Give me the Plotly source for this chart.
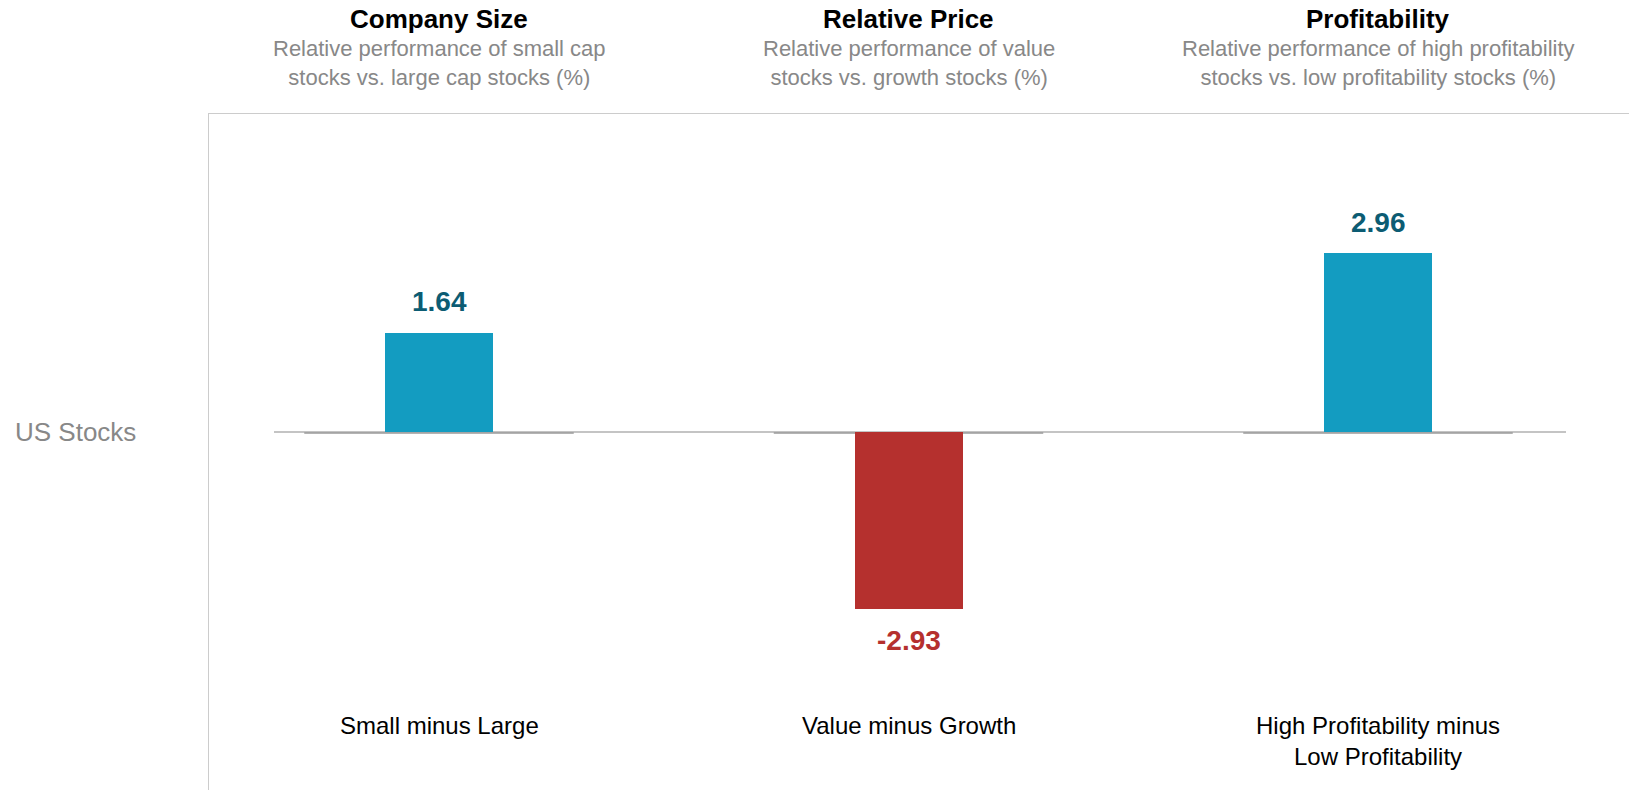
import plotly.graph_objects as go

# ---- data ----
categories = ["Small minus Large", "Value minus Growth", "High Profitability minus<br>Low Profitability"]
values = [1.64, -2.93, 2.96]
headers = ["Company Size", "Relative Price", "Profitability"]
subtitles = [
    "Relative performance of small cap<br>stocks vs. large cap stocks (%)",
    "Relative performance of value<br>stocks vs. growth stocks (%)",
    "Relative performance of high profitability<br>stocks vs. low profitability stocks (%)",
]
row_label = "US Stocks"

# ---- styling / layout constants (page pixels; page body margin removed) ----
W, H = 1629, 790
M_L, M_T = 209, 114
PLOT_W, PLOT_H = W - M_L, H - M_T
FIRST_CENTER_PX = 439 - M_L      # px from plot-left to first category centre
CAT_STEP_PX = 469.5              # px per category
ZERO_PX = 432 - M_T              # px from plot-top to zero line
UNIT_PX = 60.45                  # px per 1 percentage point

POS_BAR = "#139cc1"
NEG_BAR = "#b5302e"
POS_TXT = "#0c5c73"
NEG_TXT = "#b5302e"
GRAY_TXT = "#888888"
FONT = "Liberation Sans, Arial, Helvetica, sans-serif"

x_range = [-FIRST_CENTER_PX / CAT_STEP_PX, (PLOT_W - FIRST_CENTER_PX) / CAT_STEP_PX]
y_range = [-(PLOT_H - ZERO_PX) / UNIT_PX, ZERO_PX / UNIT_PX]


def paper_y(page_px):
    return (H - page_px) / PLOT_H


def x_from_page(page_px):
    return x_range[0] + (page_px - M_L) / CAT_STEP_PX


fig = go.Figure()
fig.add_trace(go.Bar(
    x=categories,
    y=values,
    width=108 / CAT_STEP_PX,
    marker=dict(color=[POS_BAR if v >= 0 else NEG_BAR for v in values], line=dict(width=0)),
    hoverinfo="skip",
    showlegend=False,
))

annotations = []
for i, (cat, v) in enumerate(zip(categories, values)):
    annotations.append(dict(
        x=cat, y=v, xref="x", yref="y", text=f"<b>{v:.2f}</b>", showarrow=False,
        yanchor="middle", yshift=31 if v >= 0 else -31,
        font=dict(family=FONT, size=28, color=POS_TXT if v >= 0 else NEG_TXT),
    ))
    annotations.append(dict(
        x=cat, y=paper_y(710), xref="x", yref="paper", text=cat, showarrow=False,
        yanchor="top", font=dict(family=FONT, size=24, color="#000000"),
    ))
    annotations.append(dict(
        x=cat, y=paper_y(19), xref="x", yref="paper", text=f"<b>{headers[i]}</b>",
        showarrow=False, yanchor="middle", font=dict(family=FONT, size=26, color="#000000"),
    ))
    annotations.append(dict(
        x=cat, y=paper_y(63), xref="x", yref="paper", text=subtitles[i],
        showarrow=False, yanchor="middle", font=dict(family=FONT, size=22, color=GRAY_TXT),
    ))

annotations.append(dict(
    x=0, y=0, xref="paper", yref="y", text=row_label, showarrow=False,
    xanchor="right", yanchor="middle", xshift=-71,
    font=dict(family=FONT, size=26, color=GRAY_TXT),
))

shapes = []
shapes.append(dict(
    type="line", xref="x", yref="y",
    x0=x_from_page(274), x1=x_from_page(1566),
    y0=0, y1=0, line=dict(color="#c4c4c4", width=2), layer="below",
))
for i in range(len(categories)):
    shapes.append(dict(
        type="line", xref="x", yref="y", ysizemode="pixel", yanchor=0,
        x0=i - 0.287, x1=i + 0.287, y0=-1, y1=-1,
        line=dict(color="#9a9a9a", width=1.5), layer="below",
    ))

fig.update_layout(
    width=W, height=H,
    margin=dict(l=M_L, r=0, t=M_T, b=0, pad=0),
    paper_bgcolor="white", plot_bgcolor="white",
    font=dict(family=FONT),
    xaxis=dict(
        range=x_range, side="top", showline=True, linecolor="#cccccc", linewidth=1,
        showgrid=False, zeroline=False, showticklabels=False, ticks="", fixedrange=True,
    ),
    yaxis=dict(
        range=y_range, showline=True, linecolor="#cccccc", linewidth=1,
        showgrid=False, zeroline=False, showticklabels=False, ticks="", fixedrange=True,
    ),
    annotations=annotations,
    shapes=shapes,
    bargap=0,
)

fig.write_html(
    "out.html",
    config={"displayModeBar": False},
    post_script="document.body.style.margin='0';document.body.style.overflow='hidden';",
)
